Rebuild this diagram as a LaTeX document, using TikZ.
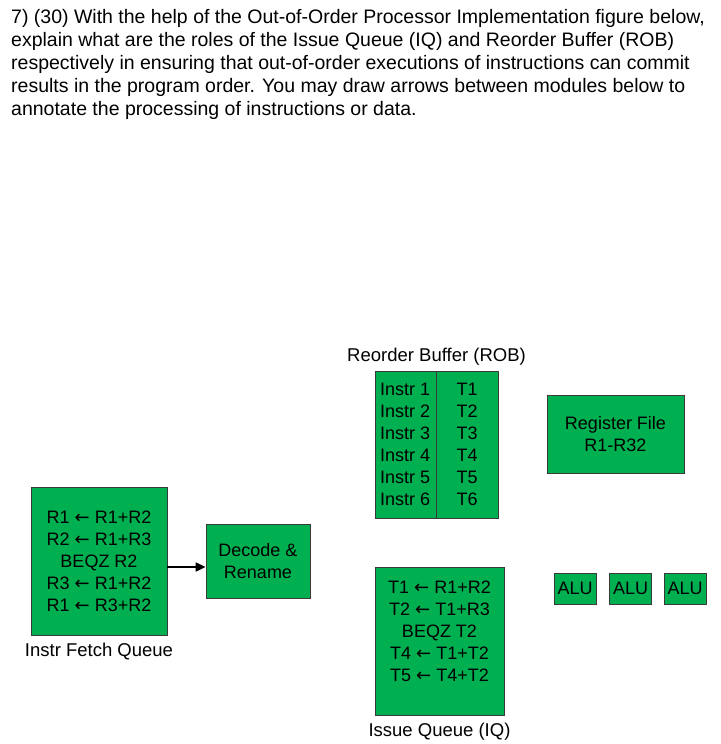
\documentclass[tikz,border=0pt]{standalone}
\usepackage{fontspec}
\setmainfont{Liberation Sans}
\newfontfamily\arrowfont{DejaVu Sans}
\newcommand{\assignto}{{\arrowfont ←}}
\usetikzlibrary{arrows.meta,positioning}
\definecolor{ooogreen}{HTML}{00B050}
\definecolor{ooogray}{HTML}{3A3A3A}
\tikzset{
  unitBox/.style={draw=ooogray, fill=ooogreen, line width=0.8pt, inner sep=0pt, align=center,
    font=\fontsize{18}{22}\selectfont},
  unitText/.style={font=\fontsize{18}{22}\selectfont, align=center, inner sep=0pt},
  unitLabel/.style={font=\fontsize{18.5}{22}\selectfont, inner sep=0pt},
  flowArrow/.style={-{Triangle[length=10pt,width=9pt]}, line width=2pt}
}
\begin{document}
\begin{tikzpicture}[x=1pt,y=-1pt]
  \useasboundingbox[fill=white] (0,0) rectangle (720,744);
  % question
  \node[anchor=north west, inner sep=0pt, align=left, font=\fontsize{19.5}{23}\selectfont] (question) at (11,9)
    {7) (30) With the help of the Out-of-Order Processor Implementation figure below,\\
     explain what are the roles of the Issue Queue (IQ) and Reorder Buffer (ROB)\\
     respectively in ensuring that out-of-order executions of instructions can commit\\
     results in the program order. You may draw arrows between modules below to\\
     annotate the processing of instructions or data.};
  % fetch queue and decode
  \node[unitBox, minimum width=136, minimum height=148] (ifq) at (99,561)
    {R1 \assignto{} R1+R2\\ R2 \assignto{} R1+R3\\ BEQZ R2\\ R3 \assignto{} R1+R2\\ R1 \assignto{} R3+R2};
  \node[unitLabel, below=7pt of ifq] (ifqLabel) {Instr Fetch Queue};
  \node[unitBox, minimum width=104, minimum height=74] (dec) at (258,561) {Decode \&\\ Rename};
  \draw[flowArrow] ([yshift=-6pt]ifq.east) -- ([yshift=-6pt]dec.west);
  % reorder buffer
  \node[unitBox, minimum width=123, minimum height=147] (rob) at (436.5,444.5) {};
  \draw[draw=ooogray, line width=0.8pt] (rob.north) -- (rob.south);
  \node[unitLabel, above=5pt of rob] (robLabel) {Reorder Buffer (ROB)};
  \foreach \i in {1,...,6} {
    \node[unitText, anchor=west] (instr\i) at (380,{389+22*(\i-1)}) {Instr \i};
    \node[unitText] (tag\i) at (467,{389+22*(\i-1)}) {T\i};
  }
  % register file
  \node[unitBox, minimum width=137, minimum height=78] (regfile) at (615.5,434) {Register File\\ R1-R32};
  % issue queue
  \node[unitBox, minimum width=129, minimum height=148] (iq) at (439.5,641) {};
  \node[unitText] (iqText) at (439.5,631)
    {T1 \assignto{} R1+R2\\ T2 \assignto{} T1+R3\\ BEQZ T2\\ T4 \assignto{} T1+T2\\ T5 \assignto{} T4+T2};
  \node[unitLabel, below=7pt of iq] (iqLabel) {Issue Queue (IQ)};
  % ALUs
  \foreach \x/\n in {575/1,630.5/2,685/3}
    \node[unitBox, minimum width=42, minimum height=31] (alu\n) at (\x,588.5) {ALU};
\end{tikzpicture}
\end{document}
